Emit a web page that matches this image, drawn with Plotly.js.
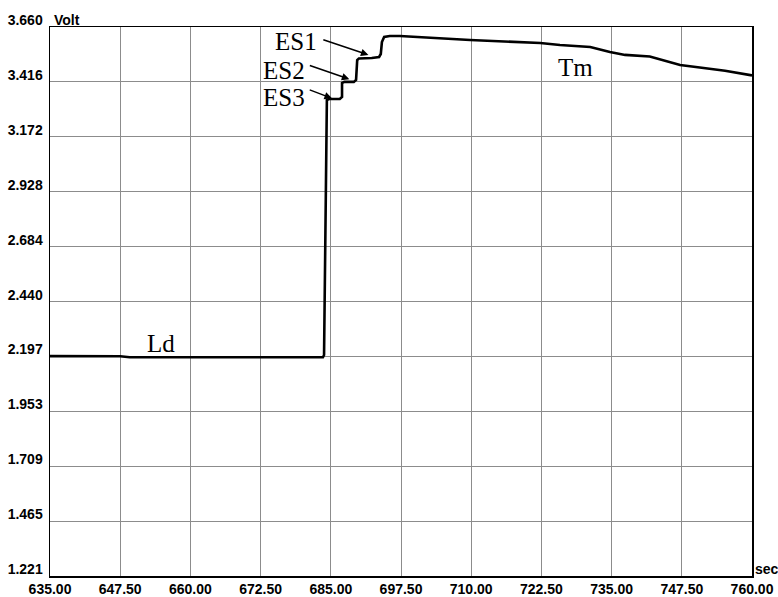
<!DOCTYPE html>
<html>
<head>
<meta charset="utf-8">
<script src="https://cdn.plot.ly/plotly-3.0.1.min.js"></script>
<style>html,body{margin:0;padding:0;background:#fff;}#chart{width:778px;height:597px;}</style>
</head>
<body>
<div id="chart"></div>
<script>
// Time (sec)
var timeSec = [635.0, 647.5, 649.2, 683.1, 683.6, 683.8, 684.3, 684.7, 686.6, 687.0, 687.0, 687.4, 689.1, 689.5, 689.7, 690.0, 692.3, 693.6, 693.9, 694.1, 694.5, 695.5, 697.3, 709.8, 722.3, 725.8, 731.2, 734.7, 737.4, 741.8, 744.5, 747.2, 750.7, 755.2, 760.0];
// Voltage (Volt)
var voltage = [2.198, 2.197, 2.193, 2.192, 2.193, 2.203, 3.336, 3.340, 3.340, 3.349, 3.411, 3.416, 3.416, 3.425, 3.513, 3.520, 3.522, 3.527, 3.540, 3.593, 3.616, 3.620, 3.620, 3.602, 3.589, 3.580, 3.571, 3.549, 3.536, 3.529, 3.510, 3.491, 3.480, 3.466, 3.445];

var xTicks = [635, 647.5, 660, 672.5, 685, 697.5, 710, 722.5, 735, 747.5, 760];
var xTickText = ["635.00", "647.50", "660.00", "672.50", "685.00", "697.50", "710.00", "722.50", "735.00", "747.50", "760.00"];
var yTicks = [1.221, 1.465, 1.709, 1.953, 2.197, 2.440, 2.684, 2.928, 3.172, 3.416, 3.660];
var yTickText = ["1.221", "1.465", "1.709", "1.953", "2.197", "2.440", "2.684", "2.928", "3.172", "3.416", "3.660"];

function bold(arr) { return arr.map(function (s) { return "<b>" + s + "</b>"; }); }

var tickFont = {family: "Liberation Sans, Arial, sans-serif", size: 14, color: "#000"};
var serif = {family: "Liberation Serif, Times New Roman, serif", size: 25, color: "#000"};

var trace = {
  x: timeSec, y: voltage, type: "scatter", mode: "lines",
  line: {color: "#000", width: 2.6}, hoverinfo: "skip"
};

var layout = {
  width: 778, height: 597,
  margin: {l: 50, r: 26, t: 27, b: 21},
  paper_bgcolor: "#fff", plot_bgcolor: "#fff",
  showlegend: false,
  xaxis: {
    range: [635, 760], tickvals: xTicks, ticktext: bold(xTickText),
    showgrid: true, gridcolor: "#8c8c8c", gridwidth: 1,
    showline: true, linecolor: "#000", linewidth: 1.5, mirror: true,
    zeroline: false, ticks: "", tickfont: tickFont
  },
  yaxis: {
    range: [1.221, 3.660], tickvals: yTicks, ticktext: bold(yTickText),
    showgrid: true, gridcolor: "#8c8c8c", gridwidth: 1,
    showline: true, linecolor: "#000", linewidth: 1.5, mirror: true,
    zeroline: false, ticks: "", tickfont: tickFont, ticklabelshift: -7, ticklabelstandoff: 3
  },
  annotations: [
    {xref: "paper", yref: "paper", x: 0, y: 1.0, xanchor: "left", yanchor: "middle", xshift: 2, yshift: 7, text: "<b>Volt</b>", showarrow: false, font: tickFont},
    {xref: "paper", yref: "paper", x: 1.0, y: 0.0, xanchor: "left", yanchor: "middle", xshift: 1, yshift: 7, text: "<b>sec</b>", showarrow: false, font: tickFont},
    {x: 678.8, y: 3.595, text: "ES1", showarrow: false, font: serif},
    {x: 676.7, y: 3.465, text: "ES2", showarrow: false, font: serif},
    {x: 676.7, y: 3.348, text: "ES3", showarrow: false, font: serif},
    {x: 728.5, y: 3.482, text: "Tm", showarrow: false, font: serif},
    {x: 654.8, y: 2.256, text: "Ld", showarrow: false, font: serif},
    {x: 691.7, y: 3.536, text: "", showarrow: true, ax: -46.6, ay: -15.7, arrowhead: 2, arrowsize: 1, arrowwidth: 1.5, arrowcolor: "#000", standoff: 0},
    {x: 688.3, y: 3.428, text: "", showarrow: true, ax: -41, ay: -14.3, arrowhead: 2, arrowsize: 1, arrowwidth: 1.5, arrowcolor: "#000", standoff: 0},
    {x: 685.2, y: 3.343, text: "", showarrow: true, ax: -23.7, ay: -9, arrowhead: 2, arrowsize: 1, arrowwidth: 1.5, arrowcolor: "#000", standoff: 0}
  ]
};

Plotly.newPlot("chart", [trace], layout, {displayModeBar: false, staticPlot: true});
</script>
</body>
</html>
